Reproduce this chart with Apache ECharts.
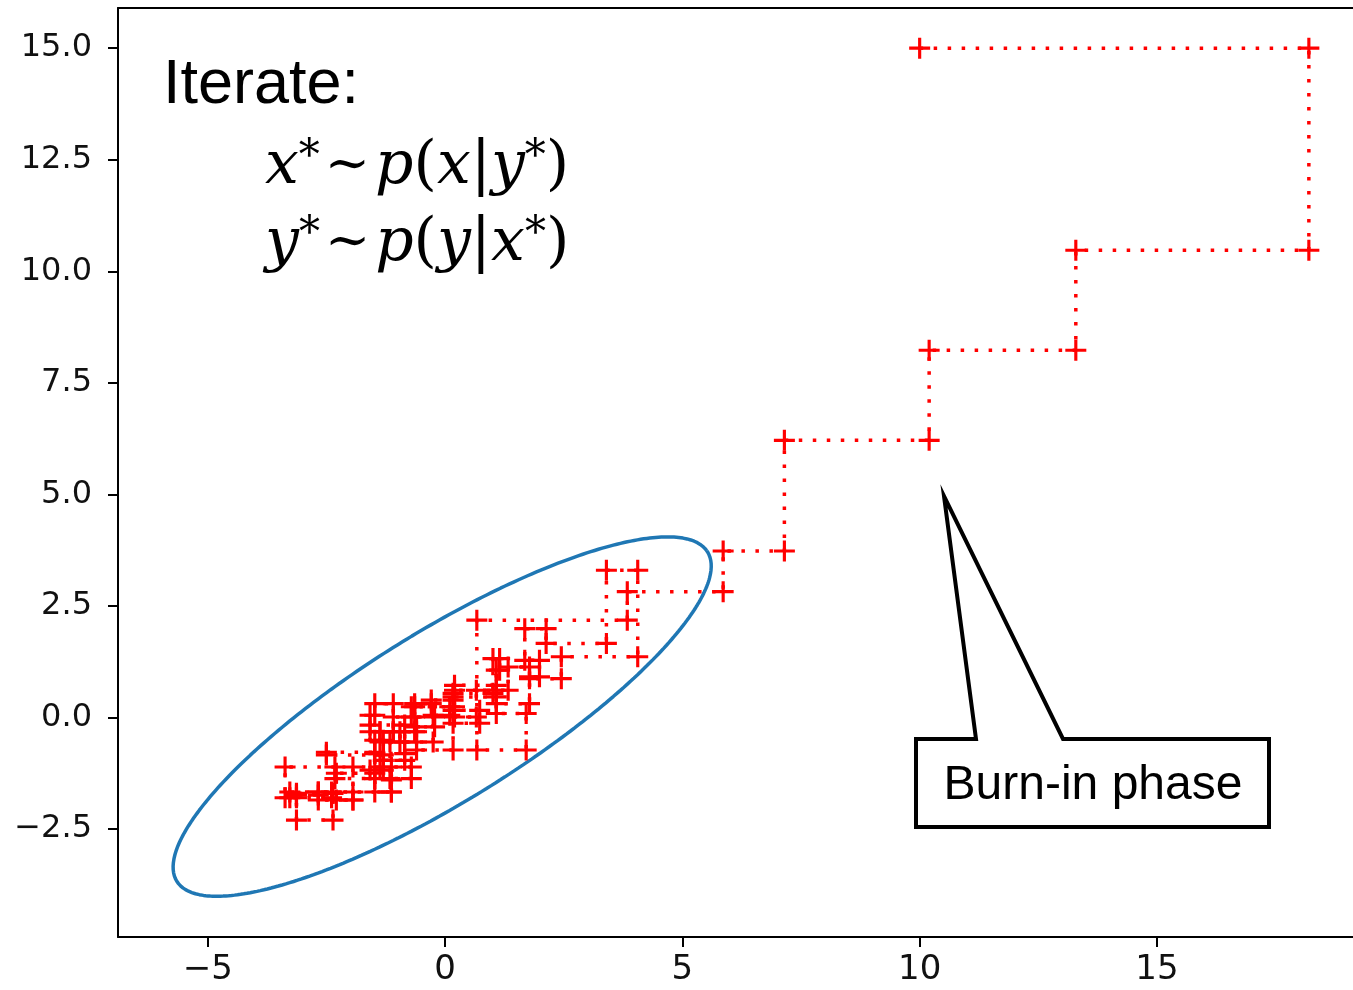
<!DOCTYPE html>
<html><head><meta charset="utf-8">
<script src="https://cdn.jsdelivr.net/npm/echarts@6/dist/echarts.min.js"></script>
<style>html,body{margin:0;padding:0;background:#fff}#c{width:1353px;height:990px}</style>
</head><body><div id="c"></div><script>
// Gibbs chain: full-step samples (x_k, y_k); each step is x-update (horizontal) then y-update (vertical)
const chainX = [10.0, 18.2, 13.29, 10.20, 7.15, 5.86, 3.84, 0.67, 1.71, 1.08, 0.66, 0.20, 1.08, 1.15, 1.01, 0.17, -0.29, -0.64, -0.22, -0.60,
  -0.95, -1.37, -1.09, -1.48, -1.58, -0.85, -1.30, -2.50, -1.48, -2.32, -3.37, -3.13, -2.36, -3.13, -2.67, -1.94, -2.29, -1.48, -1.13, -0.71,
  -1.16, -0.60, 0.17, 0.73, 0.17, 1.08, 1.78, 1.99, 1.68, 2.13, 3.40, 4.06, 2.45, 1.78, 1.33, 0.20, -0.64, -1.58, -1.30, -1.48,
  -0.85, -0.25, 0.10, -0.71, -1.09, -1.37, -1.94, -2.67, -3.27, -2.39, -1.13];
const chainY = [15.0, 10.47, 8.23, 6.21, 3.73, 2.82, 2.18, -0.73, 0.09, 0.61, 0.01, 0.72, 1.06, 1.32, 0.54, 0.39, 0.31, 0.01, -0.21, -0.32,
  -0.55, -0.32, 0.31, 0.05, -0.17, -0.96, -0.84, -0.78, -1.37, -1.11, -1.80, -1.70, -2.30, -1.74, -1.67, -1.85, -1.25, -1.67, -1.11, -1.37,
  -0.55, -0.73, -0.13, 0.16, 0.46, 0.31, 0.91, 1.28, 1.99, 1.66, 3.30, 1.36, 0.87, 1.13, 0.61, 0.24, -0.32, -1.18, -0.51, -0.81,
  -0.55, 0.05, 0.24, 0.01, -0.32, -1.11, -1.85, -1.67, -1.80, -1.67, -1.40];
const xTicks = [-5, 0, 5, 10, 15];
const yTicks = [-2.5, 0, 2.5, 5, 7.5, 10, 12.5, 15];
const xRange = [-6.89, 19.13];
const yRange = [-4.92, 15.90];
// confidence ellipse of the target distribution
const ellipseCenter = [-0.06, 0.02];
const ellipseSemiAxes = [6.70, 1.86];
const ellipseAngleDeg = 33.7;

const chainPts = [[chainX[0], chainY[0]]];
for (let k = 1; k < chainX.length; k++) {
  chainPts.push([chainX[k], chainY[k - 1]]);
  chainPts.push([chainX[k], chainY[k]]);
}
const ellipsePts = [];
const th = ellipseAngleDeg * Math.PI / 180;
for (let i = 0; i <= 360; i++) {
  const t = i * Math.PI / 180;
  const u = ellipseSemiAxes[0] * Math.cos(t), v = ellipseSemiAxes[1] * Math.sin(t);
  ellipsePts.push([ellipseCenter[0] + u * Math.cos(th) - v * Math.sin(th), ellipseCenter[1] + u * Math.sin(th) + v * Math.cos(th)]);
}

const chart = echarts.init(document.getElementById('c'), null, {renderer: 'canvas'});
const spine = {show: true, onZero: false, lineStyle: {color: '#000', width: 2}};
const plus = 'path://M8.5,0H11.5V20H8.5ZM0,8.5H20V11.5H0Z';
const mathV = {fontFamily: 'DejaVu Serif', fontStyle: 'italic', fontSize: 60, fill: '#000'};
const mathN = {fontFamily: 'DejaVu Serif', fontSize: 60, fill: '#000'};
const mathS = {fontFamily: 'DejaVu Serif', fontSize: 42, fill: '#000', verticalAlign: 'top'};
const mathR = {fontFamily: 'DejaVu Serif', fontSize: 54, fill: '#000', padding: [0, 5]};
const rich = {v: mathV, n: mathN, s: mathS, r: mathR};

chart.setOption({
  animation: false,
  backgroundColor: '#fff',
  grid: {left: 118, top: 8, bottom: 53, right: 0, containLabel: false},
  xAxis: [
    {type: 'value', position: 'bottom', min: xRange[0], max: xRange[1], axisLine: spine,
     splitLine: {show: false},
     axisTick: {show: true, length: 10, lineStyle: {color: '#000', width: 2}, customValues: xTicks},
     axisLabel: {customValues: xTicks, margin: 16, fontFamily: 'DejaVu Sans', fontSize: 34, color: '#111',
       formatter: v => String(v).replace('-', '\u2212')}},
    {type: 'value', position: 'top', min: xRange[0], max: xRange[1], axisLine: spine,
     splitLine: {show: false}, axisTick: {show: false}, axisLabel: {show: false}}
  ],
  yAxis: [
    {type: 'value', position: 'left', min: yRange[0], max: yRange[1], axisLine: spine,
     splitLine: {show: false},
     axisTick: {show: true, length: 10, lineStyle: {color: '#000', width: 2}, customValues: yTicks},
     axisLabel: {customValues: yTicks, margin: 26, fontFamily: 'DejaVu Sans', fontSize: 32, color: '#111',
       formatter: v => v.toFixed(1).replace('-', '\u2212')}}
  ],
  series: [
    {type: 'line', data: ellipsePts, symbol: 'none', showSymbol: false, silent: true, z: 2,
     lineStyle: {color: '#1f77b4', width: 3.5}},
    {type: 'line', data: chainPts, symbol: plus, symbolSize: 21, showAllSymbol: true, silent: true, z: 3,
     itemStyle: {color: '#ff0000'},
     lineStyle: {color: '#ff0000', width: 3.5, type: [3.5, 10.5], cap: 'butt'}}
  ],
  graphic: [
    {type: 'text', x: 163, y: 86, z: 100, style: {text: 'Iterate:', font: '63px "Liberation Sans", Arial, sans-serif', fill: '#000', textVerticalAlign: 'middle'}},
    {type: 'text', x: 265, y: 167, z: 100, style: {text: '{v|x}{s|*}{r|\u223C}{v|p}{n|(}{v|x}{n||}{v|y}{s|*}{n|)}', rich: rich, textVerticalAlign: 'middle'}},
    {type: 'text', x: 265, y: 244, z: 100, style: {text: '{v|y}{s|*}{r|\u223C}{v|p}{n|(}{v|y}{n||}{v|x}{s|*}{n|)}', rich: rich, textVerticalAlign: 'middle'}},
    {type: 'polygon', z: 100, shape: {points: [[916, 739], [976, 739], [944, 496], [1063, 739], [1269, 739], [1269, 827], [916, 827]]},
     style: {fill: '#fff', stroke: '#000', lineWidth: 4, lineJoin: 'miter'}},
    {type: 'text', x: 1093, y: 786, z: 101, style: {text: 'Burn-in phase', font: '48px "Liberation Sans", Arial, sans-serif', fill: '#000', textAlign: 'center', textVerticalAlign: 'middle'}}
  ]
});
</script></body></html>
